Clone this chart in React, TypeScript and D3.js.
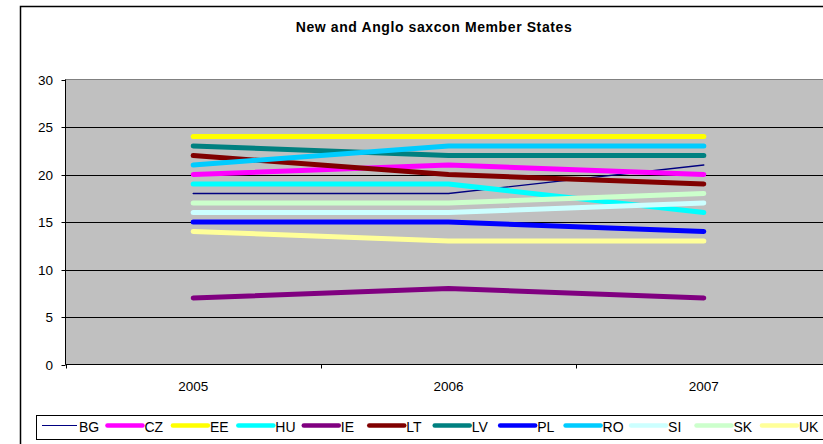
import React from "react";
import * as d3 from "d3";

const years = ["2005", "2006", "2007"];
const seriesNames = ["BG", "CZ", "EE", "HU", "IE", "LT", "LV", "PL", "RO", "SI", "SK", "UK"];
const seriesColors = ["#000080", "#FF00FF", "#FFFF00", "#00FFFF", "#800080", "#800000", "#008080", "#0000FF", "#00CCFF", "#CCFFFF", "#CCFFCC", "#FFFF99"];
const BG = [18, 18, 21];
const CZ = [20, 21, 20];
const EE = [24, 24, 24];
const HU = [19, 19, 16];
const IE = [7, 8, 7];
const LT = [22, 20, 19];
const LV = [23, 22, 22];
const PL = [15, 15, 14];
const RO = [21, 23, 23];
const SI = [16, 16, 17];
const SK = [17, 17, 18];
const UK = [14, 13, 13];
const seriesValues = [BG, CZ, EE, HU, IE, LT, LV, PL, RO, SI, SK, UK];
const yTicks = [0, 5, 10, 15, 20, 25, 30];

export default function App() {
  const W = 823, H = 444;
  const left = 65.5, right = 831.5, top = 79.5, bottom = 364.5;
  const x = d3.scaleBand().domain(years).range([left, right]);
  const y = d3.scaleLinear().domain([0, 30]).range([bottom, top]);
  const line = d3.line<number>().x((_, i) => x(years[i])! + x.bandwidth() / 2).y((d) => y(d));
  const font = "'Liberation Sans', Arial, sans-serif";
  const legendStart = 42;
  const legendStep = 65.45;
  return (
    <svg width={W} height={H} style={{ position: "absolute", left: 0, top: 0, background: "#fff" }}>
      <rect x={20.5} y={6.5} width={900} height={500} fill="#fff" stroke="#000" strokeWidth={1.5} />
      <text x={434} y={32} textAnchor="middle" fontFamily={font} fontWeight="bold" fontSize={14} letterSpacing={0.6} fill="#000">
        New and Anglo saxcon Member States
      </text>
      <rect x={left} y={top} width={right - left} height={bottom - top} fill="#C0C0C0" stroke="#808080" strokeWidth={1} />
      {yTicks.slice(1, -1).map((t) => (
        <line key={t} x1={left} x2={right} y1={Math.round(y(t)) + 0.5} y2={Math.round(y(t)) + 0.5} stroke="#000" strokeWidth={1} />
      ))}
      <line x1={left} x2={left} y1={top} y2={bottom} stroke="#000" />
      <line x1={left} x2={right} y1={bottom} y2={bottom} stroke="#000" />
      {yTicks.map((t) => (
        <g key={t}>
          <line x1={left - 4} x2={left} y1={Math.round(y(t)) + 0.5} y2={Math.round(y(t)) + 0.5} stroke="#000" />
          <text x={53} y={y(t) + 5} textAnchor="end" fontFamily={font} fontSize={13.5} fill="#000">{t}</text>
        </g>
      ))}
      {years.map((yr) => (
        <g key={yr}>
          <line x1={Math.round(x(yr)!) + 0.5} x2={Math.round(x(yr)!) + 0.5} y1={bottom} y2={bottom + 4} stroke="#000" />
          <text x={x(yr)! + x.bandwidth() / 2} y={391} textAnchor="middle" fontFamily={font} fontSize={13.5} fill="#000">{yr}</text>
        </g>
      ))}
      {seriesValues.map((vals, i) => (
        <path key={seriesNames[i]} d={line(vals)!} fill="none" stroke={seriesColors[i]} strokeWidth={i === 0 ? 1.3 : 5} strokeLinecap="round" strokeLinejoin="round" />
      ))}
      <rect x={36.5} y={415.5} width={900} height={24} fill="#fff" stroke="#000" strokeWidth={1} />
      {seriesNames.map((n, i) => {
        const lx = legendStart + i * legendStep;
        return (
          <g key={n}>
            <line x1={lx} x2={lx + 35} y1={425.5} y2={425.5} stroke={seriesColors[i]} strokeWidth={i === 0 ? 1.2 : 4.5} strokeLinecap={i === 0 ? "butt" : "round"} />
            <text x={lx + 37} y={432} fontFamily={font} fontSize={14} fill="#000">{n}</text>
          </g>
        );
      })}
    </svg>
  );
}
